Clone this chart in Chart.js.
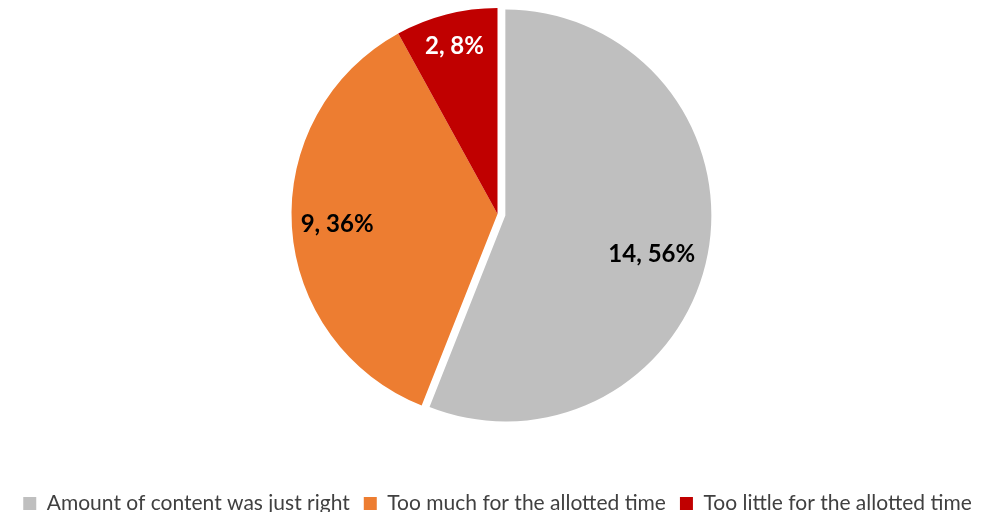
<!DOCTYPE html>
<html>
<head>
<meta charset="utf-8">
<script src="https://cdn.jsdelivr.net/npm/chart.js@4/dist/chart.umd.min.js"></script>
<style>
html,body{margin:0;padding:0;background:#fff;}
#wrap{width:995px;height:512px;position:relative;}
</style>
</head>
<body>
<div id="wrap"><canvas id="c" width="995" height="512"></canvas></div>
<script>
const categories = ["Amount of content was just right", "Too much for the allotted time", "Too little for the allotted time"];
const counts = [14, 9, 2];
const percents = [56, 36, 8];
const colors = ["#BFBFBF", "#ED7D31", "#C00000"];
const labelColors = ["#000000", "#000000", "#FFFFFF"];

// presentation settings
const sliceOffsets = [8, 0, 0];
const labelRadiusRatio = [0.735, 0.78, 0.84];
const labelAngleShiftDeg = [4, 0, 0];

function sliceVector(arc, dist) {
  const mid = (arc.startAngle + arc.endAngle) / 2;
  return [Math.cos(mid) * dist, Math.sin(mid) * dist];
}

const explodePlugin = {
  id: 'explode',
  afterDatasetsUpdate(chart) {
    const meta = chart.getDatasetMeta(0);
    meta.data.forEach((arc, i) => {
      if (!sliceOffsets[i] || arc._explodePatched) return;
      const baseDraw = arc.draw;
      arc.draw = function (ctx) {
        const [dx, dy] = sliceVector(this, sliceOffsets[i]);
        ctx.save();
        ctx.translate(dx, dy);
        baseDraw.call(this, ctx);
        ctx.restore();
      };
      arc._explodePatched = true;
    });
  }
};

const layoutPlugin = {
  id: 'pieArea',
  beforeInit(chart) {
    const legend = chart.legend;
    if (legend) {
      const origFit = legend.fit;
      legend.fit = function () {
        origFit.call(this);
        this.height -= 12;
      };
    }
  },
  afterLayout(chart) {
    const a = chart.chartArea;
    a.top = 0;
    a.bottom = 428;
    a.height = 428;
  }
};

const labelPlugin = {
  id: 'sliceLabels',
  afterDatasetsDraw(chart) {
    const ctx = chart.ctx;
    const meta = chart.getDatasetMeta(0);
    ctx.save();
    ctx.font = 'bold 24px Lato, "Open Sans", sans-serif';
    ctx.textAlign = 'center';
    ctx.textBaseline = 'middle';
    meta.data.forEach((arc, i) => {
      const [ox, oy] = sliceVector(arc, sliceOffsets[i]);
      const mid = (arc.startAngle + arc.endAngle) / 2 + labelAngleShiftDeg[i] * Math.PI / 180;
      const r = arc.outerRadius * labelRadiusRatio[i];
      const x = arc.x + ox + Math.cos(mid) * r;
      const y = arc.y + oy + Math.sin(mid) * r;
      ctx.fillStyle = labelColors[i];
      ctx.fillText(counts[i] + ', ' + percents[i] + '%', x, y);
    });
    ctx.restore();
  }
};

new Chart(document.getElementById('c'), {
  type: 'pie',
  data: {
    labels: categories,
    datasets: [{
      data: counts,
      backgroundColor: colors,
      borderWidth: 0,
      hoverOffset: 0
    }]
  },
  options: {
    responsive: false,
    animation: false,
    radius: 206,
    layout: { padding: 0 },
    plugins: {
      tooltip: { enabled: false },
      legend: {
        position: 'bottom',
        labels: {
          boxWidth: 13,
          boxHeight: 13,
          padding: 14,
          color: '#404040',
          font: { family: 'Lato, "Open Sans", sans-serif', size: 21 }
        }
      }
    }
  },
  plugins: [layoutPlugin, explodePlugin, labelPlugin]
});
</script>
</body>
</html>
